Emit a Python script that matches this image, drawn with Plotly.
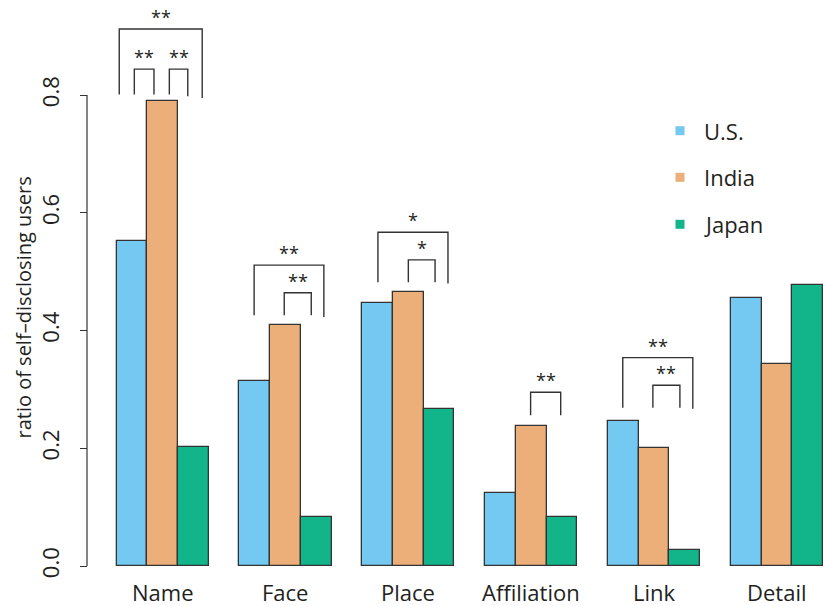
import plotly.graph_objects as go

# Share of users who disclose each kind of profile information, by country
categories = ["Name", "Face", "Place", "Affiliation", "Link", "Detail"]
countries = ["U.S.", "India", "Japan"]
us_values = [0.552, 0.314, 0.447, 0.124, 0.247, 0.456]
india_values = [0.790, 0.409, 0.466, 0.238, 0.200, 0.343]
japan_values = [0.202, 0.083, 0.266, 0.083, 0.028, 0.477]
series_values = [us_values, india_values, japan_values]
colors = ["#73C9F1", "#EDAF7A", "#12B58A"]

y_ticks = [0.0, 0.2, 0.4, 0.6, 0.8]
y_tick_labels = ["0.0", "0.2", "0.4", "0.6", "0.8"]

# Significance brackets (x in bar units, y in ratio units)
bracket_left = [1.09, 1.58, 2.72, 5.48, 6.46, 9.51, 10.50, 14.48, 17.48, 18.46]
bracket_right = [3.79, 2.22, 3.32, 7.75, 7.34, 11.79, 11.37, 15.46, 19.76, 19.34]
bracket_top = [0.912, 0.844, 0.844, 0.511, 0.464, 0.567, 0.520, 0.295, 0.354, 0.307]
bracket_left_foot = [0.801, 0.801, 0.801, 0.426, 0.426, 0.482, 0.482, 0.256, 0.269, 0.269]
bracket_right_foot = [0.795, 0.801, 0.798, 0.423, 0.426, 0.480, 0.482, 0.256, 0.267, 0.269]
bracket_label = ["**", "**", "**", "**", "**", "*", "*", "**", "**", "**"]

INK = "#231F20"
FONT = "Open Sans"
W, H = 825, 606

# barplot-style layout: bars one unit wide, a one-unit gap between groups
def bar_x(group, series):
    return 1.5 + 4 * group + series

fig = go.Figure()
for j, name in enumerate(countries):
    fig.add_trace(go.Bar(
        x=[bar_x(g, j) for g in range(len(categories))],
        y=series_values[j],
        width=1.0,
        name=name,
        marker=dict(color=colors[j], line=dict(color="#333333", width=1.3)),
        showlegend=False,
    ))

shapes = []
annotations = []

# y axis line spanning the tick range
axis_x = 87 / W
shapes.append(dict(type="line", xref="paper", yref="y", x0=axis_x, x1=axis_x,
                   y0=y_ticks[0], y1=y_ticks[-1], line=dict(color="#333333", width=1.2)))

# brackets
for l, r, t, lf, rf, lab in zip(bracket_left, bracket_right, bracket_top,
                                bracket_left_foot, bracket_right_foot, bracket_label):
    shapes.append(dict(type="path", xref="x", yref="y",
                       path=f"M {l},{lf} L {l},{t} L {r},{t} L {r},{rf}",
                       line=dict(color="#333333", width=1.4)))
    annotations.append(dict(x=(l + r) / 2, y=t, xref="x", yref="y", text=lab,
                            showarrow=False, yanchor="bottom", yshift=-2,
                            font=dict(family=FONT, size=18, color=INK)))

# category labels under each group
for g, cat in enumerate(categories):
    annotations.append(dict(x=bar_x(g, 1), y=0, xref="x", yref="y", text=cat,
                            showarrow=False, yanchor="middle", yshift=-25.5,
                            borderpad=0,
                            font=dict(family=FONT, size=22, color=INK)))

# y axis title
annotations.append(dict(x=24 / W, y=0.439, xref="paper", yref="y",
                        text="ratio of self\u2013disclosing users", textangle=-90,
                        showarrow=False, xanchor="center", yanchor="middle",
                        font=dict(family=FONT, size=20, color=INK)))

# legend
legend_y = [130.7, 177.3, 224.3]
for name, col, py in zip(countries, colors, legend_y):
    yc = 1 - py / H
    shapes.append(dict(type="rect", xref="paper", yref="paper",
                       x0=(680 - 4.5) / W, x1=(680 + 4.5) / W,
                       y0=yc - 4.5 / H, y1=yc + 4.5 / H,
                       fillcolor=col, line=dict(width=0)))
    annotations.append(dict(x=702 / W, y=yc, xref="paper", yref="paper", text=name,
                            showarrow=False, xanchor="left", yanchor="middle",
                            font=dict(family=FONT, size=22, color=INK)))

# pixel mapping: bar unit = 30.72 px starting at 116.5 px; ratio 1.0 = 588.75 px, 0 at 566 px
x_lo = 1 + (0 - 116.5) / 30.72
x_hi = 1 + (W - 116.5) / 30.72
y_lo = (566 - H) / 588.75
y_hi = 566 / 588.75

fig.update_layout(
    width=W, height=H,
    margin=dict(l=0, r=0, t=0, b=0),
    paper_bgcolor="white", plot_bgcolor="white",
    barmode="overlay", bargap=0,
    shapes=shapes, annotations=annotations,
    xaxis=dict(range=[x_lo, x_hi], visible=False, fixedrange=True),
    yaxis=dict(range=[y_lo, y_hi], anchor="free", position=axis_x,
               tickvals=y_ticks, ticktext=y_tick_labels, tickangle=-90,
               ticks="outside", ticklen=7, tickwidth=1.2, tickcolor="#333333",
               ticklabelstandoff=12,
               showline=False, showgrid=False, zeroline=False, automargin=False,
               tickfont=dict(family=FONT, size=22, color=INK)),
    font=dict(family=FONT, color=INK),
)

fig.write_html("out.html")
